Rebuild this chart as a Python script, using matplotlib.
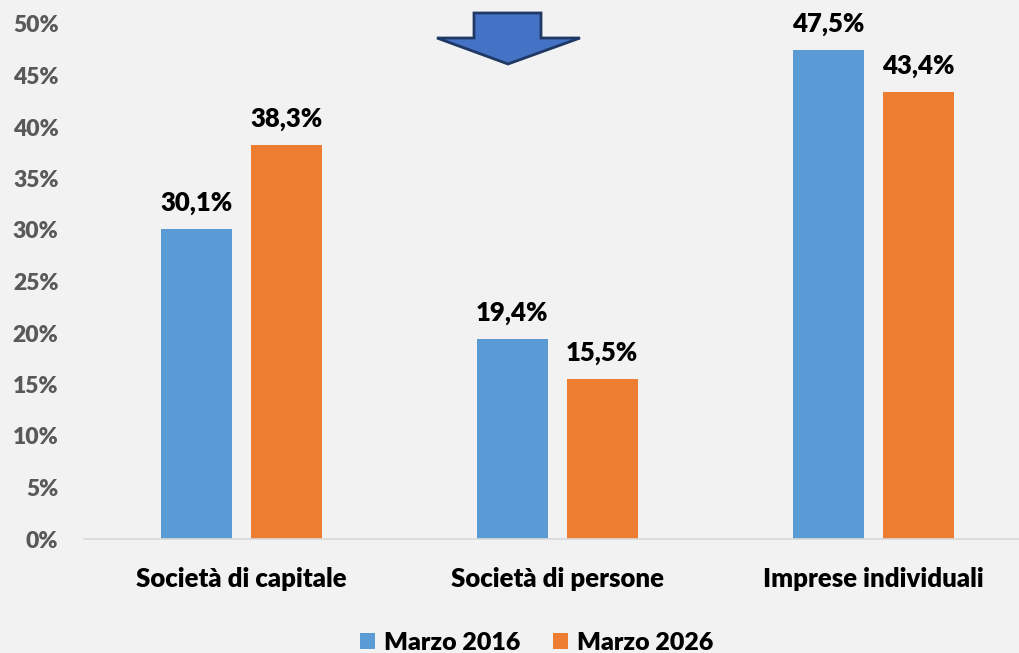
import matplotlib
matplotlib.use('Agg')
from matplotlib import pyplot as plt
from matplotlib.patches import Polygon
import numpy as np

categories = ['Società di capitale', 'Società di persone', 'Imprese individuali']
marzo_2016 = [30.1, 19.4, 47.5]
marzo_2026 = [38.3, 15.5, 43.4]
series_names = ['Marzo 2016', 'Marzo 2026']
yticks = [0, 5, 10, 15, 20, 25, 30, 35, 40, 45, 50]

bg = '#F2F2F2'
blue = '#5B9BD5'
orange = '#ED7D31'
wt = 'heavy'

plt.rcParams['font.family'] = ['Lato', 'DejaVu Sans']

fig = plt.figure(figsize=(10.19, 6.53), dpi=100, facecolor=bg)
ax = fig.add_axes([83.5 / 1019, 114 / 653, (1019 - 83.5) / 1019, 515 / 653])
ax.set_facecolor(bg)

x = np.arange(len(categories))
w = 0.225
off = 0.1424
b1 = ax.bar(x - off, marzo_2016, w, color=blue, label=series_names[0])
b2 = ax.bar(x + off, marzo_2026, w, color=orange, label=series_names[1])

for bars, vals in ((b1, marzo_2016), (b2, marzo_2026)):
    for b, v in zip(bars, vals):
        ax.annotate(f'{v:.1f}%'.replace('.', ','),
                    (b.get_x() + b.get_width() / 2, v),
                    xytext=(0, 10), textcoords='offset points',
                    ha='center', va='bottom', fontsize=18.5,
                    fontweight=wt, color='black')

ax.set_xlim(-0.5, 2.5 - 12 / 316)
ax.set_ylim(0, 50)
ax.set_yticks(yticks)
ax.set_yticklabels([f'{t}%' for t in yticks], color='#595959',
                   fontsize=16.5, fontweight=wt)
ax.set_xticks(x)
ax.set_xticklabels(categories, fontsize=18.5, fontweight=wt, color='black')
ax.tick_params(axis='both', length=0)
ax.tick_params(axis='x', pad=20)
ax.tick_params(axis='y', pad=18)
for s in ['top', 'right', 'left']:
    ax.spines[s].set_visible(False)
ax.spines['bottom'].set_color('#D9D9D9')
ax.spines['bottom'].set_linewidth(1.2)

leg = fig.legend(loc='lower center', bbox_to_anchor=(0.5265, -0.036), ncol=2,
                 frameon=False, fontsize=18, handlelength=0.6,
                 handleheight=0.6, handletextpad=0.35, columnspacing=1.3)
for t in leg.get_texts():
    t.set_fontweight(wt)

# down arrow in the top area (figure pixel coords)
pts = [(474, 13), (541, 13), (541, 38), (580, 38), (508, 64),
       (437, 38), (474, 38)]
arrow = Polygon([(px / 1019, 1 - py / 653) for px, py in pts], closed=True,
                transform=fig.transFigure, facecolor='#4472C4',
                edgecolor='#1F3864', linewidth=2, zorder=5)
fig.patches.append(arrow)

fig.savefig('out.png', dpi=100, facecolor=bg)
